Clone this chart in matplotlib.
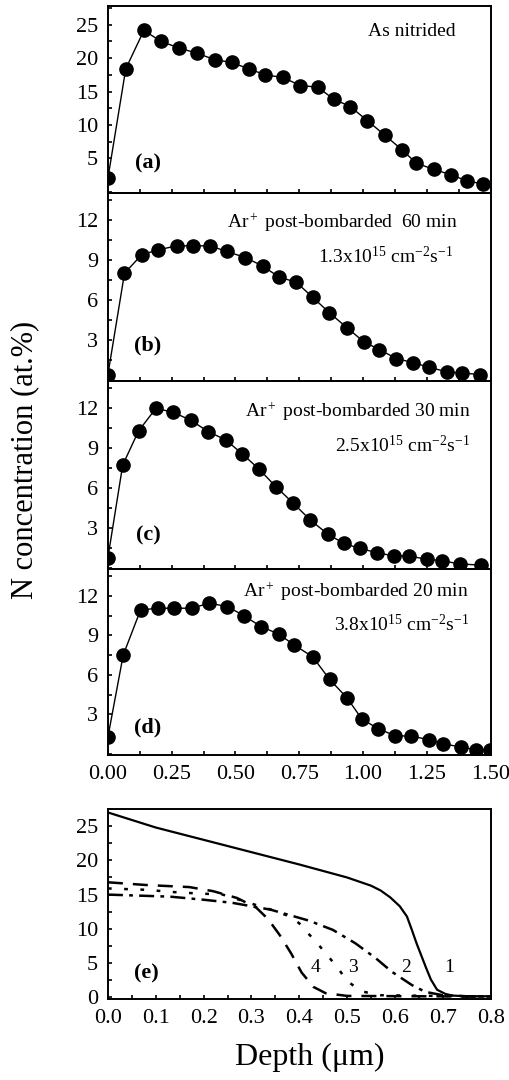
import matplotlib
matplotlib.use("Agg")
import matplotlib.pyplot as plt
from matplotlib.ticker import MultipleLocator

plt.rcParams['font.family'] = ['Liberation Serif', 'DejaVu Serif']
plt.rcParams['mathtext.fontset'] = 'custom'
plt.rcParams['mathtext.rm'] = 'Liberation Serif'
plt.rcParams['mathtext.it'] = 'Liberation Serif:italic'
plt.rcParams['mathtext.bf'] = 'Liberation Serif:bold'

# (a) as nitrided
xa = [0, 0.07, 0.141, 0.208, 0.28, 0.348, 0.42, 0.486, 0.551, 0.617, 0.686, 0.754,
      0.822, 0.885, 0.95, 1.016, 1.084, 1.153, 1.209, 1.277, 1.346, 1.408, 1.471]
ya = [2.0, 18.4, 24.15, 22.5, 21.5, 20.75, 19.75, 19.35, 18.4, 17.5, 17.1, 15.9,
      15.65, 13.85, 12.75, 10.65, 8.5, 6.25, 4.25, 3.35, 2.5, 1.6, 1.15]

# (b) 60 min
xb = [0, 0.065, 0.132, 0.197, 0.269, 0.335, 0.4, 0.466, 0.538, 0.606, 0.672, 0.737,
      0.803, 0.868, 0.937, 1.003, 1.064, 1.13, 1.195, 1.258, 1.33, 1.389, 1.458]
yb = [0.43, 8.0, 9.38, 9.75, 10.05, 10.05, 10.05, 9.63, 9.18, 8.55, 7.7, 7.35,
      6.2, 5.05, 3.93, 2.88, 2.3, 1.63, 1.33, 0.98, 0.63, 0.55, 0.43]

# (c) 30 min
xc = [0, 0.058, 0.12, 0.188, 0.257, 0.325, 0.394, 0.462, 0.527, 0.593, 0.658, 0.724,
      0.793, 0.861, 0.924, 0.986, 1.055, 1.12, 1.179, 1.251, 1.31, 1.378, 1.461]
yc = [0.8, 7.75, 10.3, 12.0, 11.7, 11.1, 10.25, 9.63, 8.58, 7.43, 6.13, 4.93,
      3.63, 2.58, 1.88, 1.5, 1.18, 0.93, 0.93, 0.68, 0.58, 0.33, 0.25]

# (d) 20 min
xd = [0, 0.06, 0.128, 0.198, 0.26, 0.328, 0.397, 0.468, 0.535, 0.6, 0.669, 0.73,
      0.802, 0.869, 0.937, 0.996, 1.059, 1.127, 1.186, 1.258, 1.314, 1.382, 1.441, 1.497]
yd = [1.27, 7.51, 10.94, 11.07, 11.07, 11.07, 11.45, 11.2, 10.48, 9.67, 9.11, 8.27,
      7.38, 5.65, 4.25, 2.62, 1.91, 1.35, 1.35, 1.07, 0.76, 0.51, 0.31, 0.25]

# (e) simulated profiles
x1 = [0, 0.1, 0.2, 0.3, 0.4, 0.5, 0.55, 0.57, 0.59, 0.61, 0.625, 0.635, 0.645, 0.655,
      0.665, 0.675, 0.688, 0.705, 0.72, 0.75, 0.8]
y1 = [27.0, 24.8, 23.0, 21.2, 19.4, 17.5, 16.3, 15.6, 14.6, 13.3, 11.8, 9.9, 7.9, 6.1,
      4.3, 2.6, 1.1, 0.5, 0.25, 0.15, 0.15]
x2 = [0, 0.13, 0.2, 0.26, 0.3, 0.34, 0.38, 0.42, 0.47, 0.517, 0.56, 0.593, 0.635,
      0.663, 0.7, 0.75, 0.8]
y2 = [15.0, 14.7, 14.25, 13.8, 13.3, 12.8, 12.0, 11.2, 9.85, 7.9, 5.7, 3.75, 1.8,
      0.8, 0.3, 0.15, 0.1]
x3 = [0, 0.08, 0.15, 0.24, 0.29, 0.35, 0.38, 0.4, 0.415, 0.435, 0.458, 0.472, 0.486,
      0.5, 0.517, 0.535, 0.57, 0.8]
y3 = [15.9, 15.7, 15.3, 15.0, 13.9, 12.6, 11.8, 10.8, 9.6, 8.1, 6.2, 5.0, 3.75,
      2.4, 1.5, 0.8, 0.3, 0.1]
x4 = [0, 0.08, 0.17, 0.22, 0.27, 0.31, 0.335, 0.36, 0.383, 0.405, 0.43, 0.455, 0.5, 0.8]
y4 = [16.8, 16.4, 16.1, 15.5, 14.5, 13.1, 11.4, 9.0, 6.4, 3.6, 1.5, 0.6, 0.2, 0.1]

fig = plt.figure(figsize=(5.09, 10.8), dpi=100)

L, R = 0.212, 0.964
boxes = [(0.8213, 0.9944), (0.6472, 0.8213), (0.4731, 0.6472), (0.3009, 0.4731)]
series = [(xa, ya), (xb, yb), (xc, yc), (xd, yd)]
ylims = [(-0.2, 27.8), (-0.05, 14.0), (-0.05, 14.05), (-0.1, 14.05)]
ymaj = [5, 3, 3, 3]
tags = ['(a)', '(b)', '(c)', '(d)']
tag_y = [4.25, 2.6, 2.5, 2.0]

def style(ax, xmaj, xmin, ymj, ymn):
    ax.xaxis.set_major_locator(MultipleLocator(xmaj))
    ax.xaxis.set_minor_locator(MultipleLocator(xmin))
    ax.yaxis.set_major_locator(MultipleLocator(ymj))
    ax.yaxis.set_minor_locator(MultipleLocator(ymn))
    ax.tick_params(which='both', direction='in', length=3, width=1.2, labelsize=16, pad=7)
    for s in ax.spines.values():
        s.set_linewidth(1.4)

for i in range(4):
    b, t = boxes[i]
    ax = fig.add_axes([L, b, R - L, t - b])
    x, y = series[i]
    ax.plot(x, y, '-', color='black', lw=1.0, marker='o', ms=9.5, mfc='black', mec='black')
    ax.set_xlim(0, 1.5)
    ax.set_ylim(*ylims[i])
    style(ax, 0.25, 0.125, ymaj[i], ymaj[i] / 2)
    yt = [v for v in ax.get_yticks() if 0 < v <= ylims[i][1]]
    ax.set_yticks(yt)
    ax.set_yticklabels([f"{v:g}" for v in yt])
    ax.xaxis.set_major_formatter(plt.FuncFormatter(lambda v, p: f"{v:.2f}"))
    if i < 3:
        ax.tick_params(labelbottom=False)
    ax.text(0.157, tag_y[i], tags[i], fontsize=16, fontweight='bold', ha='center', va='center')
    if i == 0:
        ax.text(1.19, 24.0, 'As nitrided', fontsize=14, ha='center', va='center')
    ax.set_zorder(1)
    ax.patch.set_alpha(0)

axb, axc, axd = fig.axes[1], fig.axes[2], fig.axes[3]
axb.text(1.369, 11.8, 'Ar$^+$ post-bombarded  60 min', fontsize=14, ha='right', va='center')
axb.text(1.353, 9.25, '1.3x10$^{15}$ cm$^{-2}$s$^{-1}$', fontsize=14, ha='right', va='center')
axc.text(1.421, 11.75, 'Ar$^+$ post-bombarded 30 min', fontsize=14, ha='right', va='center')
axc.text(1.42, 9.25, '2.5x10$^{15}$ cm$^{-2}$s$^{-1}$', fontsize=14, ha='right', va='center')
axd.text(1.415, 12.3, 'Ar$^+$ post-bombarded 20 min', fontsize=14, ha='right', va='center')
axd.text(1.415, 9.8, '3.8x10$^{15}$ cm$^{-2}$s$^{-1}$', fontsize=14, ha='right', va='center')

# (e)
axe = fig.add_axes([L, 0.075, R - L, 0.2509 - 0.075])
axe.plot(x1, y1, '-', color='black', lw=1.6)
axe.plot(x2, y2, color='black', lw=1.8, dashes=[6, 2.5, 1.5, 2.5])
axe.plot(x3, y3, color='black', lw=1.8, dashes=[1.5, 5])
axe.plot(x4, y4, color='black', lw=1.8, dashes=[6, 4])
axe.set_xlim(0, 0.8)
axe.set_ylim(-0.25, 27.5)
style(axe, 0.1, 0.05, 5, 2.5)
axe.xaxis.set_major_formatter(plt.FuncFormatter(lambda v, p: f"{v:.1f}"))
axe.text(0.08, 3.5, '(e)', fontsize=16, fontweight='bold', ha='center', va='center')
for lab, lx in zip(['4', '3', '2', '1'], [0.434, 0.512, 0.623, 0.713]):
    axe.text(lx, 4.4, lab, fontsize=14, ha='center', va='center')

fig.text(0.049, 0.574, 'N concentration (at.%)', fontsize=22, rotation=90, ha='center', va='center')
fig.text(0.609, 0.021, 'Depth (\u03bcm)', fontsize=23, ha='center', va='center')

fig.savefig('out.png', dpi=100)
